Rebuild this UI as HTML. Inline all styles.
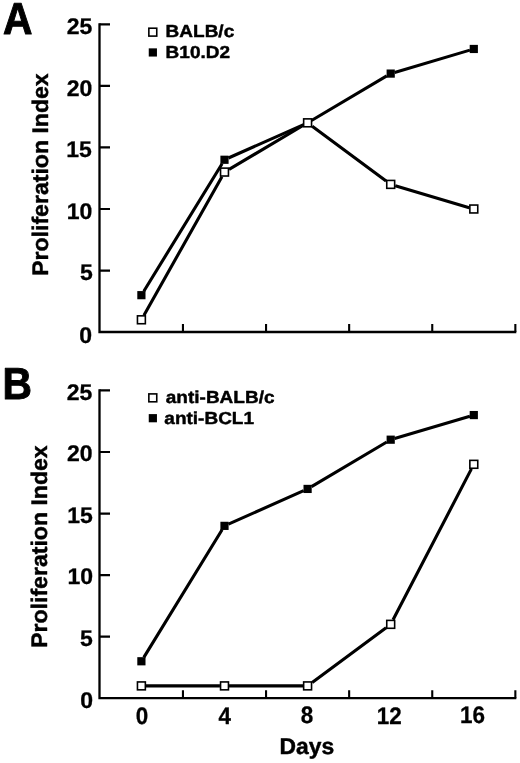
<!DOCTYPE html>
<html><head><meta charset="utf-8"><title>Proliferation Index</title>
<style>html,body{margin:0;padding:0;background:#fff;}body{width:520px;height:763px;overflow:hidden;}svg{display:block;}</style>
</head><body>
<svg width="520" height="763" viewBox="0 0 520 763">
<rect width="520" height="763" fill="#fff"/>
<path d="M99.50 23.15V332.00H516.3" fill="none" stroke="#000" stroke-width="2.3" stroke-linejoin="miter" stroke-linecap="butt"/>
<path d="M99.50 270.55H110M99.50 209.00H110M99.50 147.45H110M99.50 85.90H110M99.50 24.35H110" stroke="#000" stroke-width="2.2" fill="none"/>
<path d="M182.95 332.00V324.00M266.05 332.00V324.00M349.15 332.00V324.00M432.25 332.00V324.00M515.35 332.00V324.00" stroke="#000" stroke-width="2.1" fill="none"/>
<path d="M143.81 291.24L222.09 163.69M228.42 158.02L303.68 124.57M311.53 120.50L386.77 75.92M394.61 72.43L469.89 50.13" fill="none" stroke="#000" stroke-width="3.1" stroke-linecap="butt"/>
<path d="M143.97 315.21L221.93 176.65M229.08 169.36L303.02 125.54M312.19 126.23L386.11 180.98M395.26 185.73L469.24 207.65" fill="none" stroke="#000" stroke-width="3.1" stroke-linecap="butt"/>
<rect x="137.30" y="291.07" width="8.2" height="8.2" fill="#000"/>
<rect x="220.40" y="155.66" width="8.2" height="8.2" fill="#000"/>
<rect x="303.50" y="118.73" width="8.2" height="8.2" fill="#000"/>
<rect x="386.60" y="69.49" width="8.2" height="8.2" fill="#000"/>
<rect x="469.70" y="44.87" width="8.2" height="8.2" fill="#000"/>
<rect x="137.45" y="315.84" width="7.90" height="7.90" fill="#fff" stroke="#000" stroke-width="1.6"/>
<rect x="220.55" y="168.12" width="7.90" height="7.90" fill="#fff" stroke="#000" stroke-width="1.6"/>
<rect x="303.65" y="118.88" width="7.90" height="7.90" fill="#fff" stroke="#000" stroke-width="1.6"/>
<rect x="386.75" y="180.43" width="7.90" height="7.90" fill="#fff" stroke="#000" stroke-width="1.6"/>
<rect x="469.85" y="205.05" width="7.90" height="7.90" fill="#fff" stroke="#000" stroke-width="1.6"/>
<rect x="148.85" y="28.20" width="7.90" height="7.90" fill="#fff" stroke="#000" stroke-width="1.6"/>
<rect x="148.75" y="48.35" width="8.2" height="8.2" fill="#000"/>
<path d="M99.50 389.25V698.20H516.3" fill="none" stroke="#000" stroke-width="2.3" stroke-linejoin="miter" stroke-linecap="butt"/>
<path d="M99.50 636.65H110M99.50 575.10H110M99.50 513.55H110M99.50 452.00H110M99.50 390.45H110" stroke="#000" stroke-width="2.2" fill="none"/>
<path d="M182.95 698.20V690.20M266.05 698.20V690.20M349.15 698.20V690.20M432.25 698.20V690.20M515.35 698.20V690.20" stroke="#000" stroke-width="2.1" fill="none"/>
<path d="M143.81 657.34L222.09 529.79M228.42 524.12L303.68 490.67M311.53 486.60L386.77 442.02M394.61 438.53L469.89 416.23" fill="none" stroke="#000" stroke-width="3.1" stroke-linecap="butt"/>
<path d="M145.95 685.89L219.95 685.89M229.05 685.89L303.05 685.89M312.19 682.49L386.11 627.74M393.07 619.77L471.43 468.88" fill="none" stroke="#000" stroke-width="3.1" stroke-linecap="butt"/>
<rect x="137.30" y="657.17" width="8.2" height="8.2" fill="#000"/>
<rect x="220.40" y="521.76" width="8.2" height="8.2" fill="#000"/>
<rect x="303.50" y="484.83" width="8.2" height="8.2" fill="#000"/>
<rect x="386.60" y="435.59" width="8.2" height="8.2" fill="#000"/>
<rect x="469.70" y="410.97" width="8.2" height="8.2" fill="#000"/>
<rect x="137.45" y="681.94" width="7.90" height="7.90" fill="#fff" stroke="#000" stroke-width="1.6"/>
<rect x="220.55" y="681.94" width="7.90" height="7.90" fill="#fff" stroke="#000" stroke-width="1.6"/>
<rect x="303.65" y="681.94" width="7.90" height="7.90" fill="#fff" stroke="#000" stroke-width="1.6"/>
<rect x="386.75" y="620.39" width="7.90" height="7.90" fill="#fff" stroke="#000" stroke-width="1.6"/>
<rect x="469.85" y="460.36" width="7.90" height="7.90" fill="#fff" stroke="#000" stroke-width="1.6"/>
<rect x="148.85" y="393.90" width="7.90" height="7.90" fill="#fff" stroke="#000" stroke-width="1.6"/>
<rect x="148.75" y="414.10" width="8.2" height="8.2" fill="#000"/>
<g font-family="Liberation Sans, Arial, Helvetica, sans-serif" font-weight="bold" fill="#000" stroke="#000" stroke-linejoin="round" text-rendering="geometricPrecision">
<text transform="translate(2.92 33.58) scale(0.9089 1)" font-size="44.85" stroke-width="1.0">A</text>
<text transform="translate(2.41 399.29) scale(0.9089 1)" font-size="44.85" stroke-width="1.0">B</text>
<text transform="translate(66.73 34.26) scale(1.0153 1)" font-size="22.66" stroke-width="0.3">25</text>
<text transform="translate(66.80 95.80) scale(1.0153 1)" font-size="22.66" stroke-width="0.3">20</text>
<text transform="translate(66.24 156.81) scale(1.0153 1)" font-size="22.66" stroke-width="0.3">15</text>
<text transform="translate(66.66 218.85) scale(1.0153 1)" font-size="22.66" stroke-width="0.3">10</text>
<text transform="translate(79.94 279.55) scale(1.0153 1)" font-size="22.66" stroke-width="0.3">5</text>
<text transform="translate(79.30 342.71) scale(1.0153 1)" font-size="22.66" stroke-width="0.3">0</text>
<text transform="translate(66.77 399.88) scale(1.0153 1)" font-size="22.66" stroke-width="0.3">25</text>
<text transform="translate(66.99 461.38) scale(1.0153 1)" font-size="22.66" stroke-width="0.3">20</text>
<text transform="translate(67.30 522.96) scale(1.0153 1)" font-size="22.66" stroke-width="0.3">15</text>
<text transform="translate(67.43 584.42) scale(1.0153 1)" font-size="22.66" stroke-width="0.3">10</text>
<text transform="translate(80.07 646.17) scale(1.0153 1)" font-size="22.66" stroke-width="0.3">5</text>
<text transform="translate(80.28 708.48) scale(1.0153 1)" font-size="22.66" stroke-width="0.3">0</text>
<text transform="translate(135.83 723.61) scale(0.9396 1)" font-size="23.89" stroke-width="0.3">0</text>
<text transform="translate(218.47 723.63) scale(0.9396 1)" font-size="23.89" stroke-width="0.3">4</text>
<text transform="translate(300.84 723.16) scale(0.9396 1)" font-size="23.89" stroke-width="0.3">8</text>
<text transform="translate(376.66 723.64) scale(0.9396 1)" font-size="23.89" stroke-width="0.3">12</text>
<text transform="translate(460.03 723.37) scale(0.9396 1)" font-size="23.89" stroke-width="0.3">16</text>
<text transform="translate(279.51 753.94) scale(1.0051 1)" font-size="22.74" stroke-width="0.45">Days</text>
<text transform="translate(165.61 37.33) scale(1.0940 1)" font-size="17.38" stroke-width="0.45">BALB/c</text>
<text transform="translate(165.60 58.04) scale(1.0940 1)" font-size="17.38" stroke-width="0.45">B10.D2</text>
<text transform="translate(165.80 403.23) scale(1.0940 1)" font-size="17.38" stroke-width="0.45">anti-BALB/c</text>
<text transform="translate(164.34 424.16) scale(1.0940 1)" font-size="17.38" stroke-width="0.45">anti-BCL1</text>
<text transform="translate(47.65 275.85) rotate(-90) scale(1.0243 1)" font-size="22.52" stroke-width="0.45">Proliferation Index</text>
<text transform="translate(47.20 647.83) rotate(-90) scale(1.0243 1)" font-size="22.52" stroke-width="0.45">Proliferation Index</text>
</g>
</svg>
</body></html>
